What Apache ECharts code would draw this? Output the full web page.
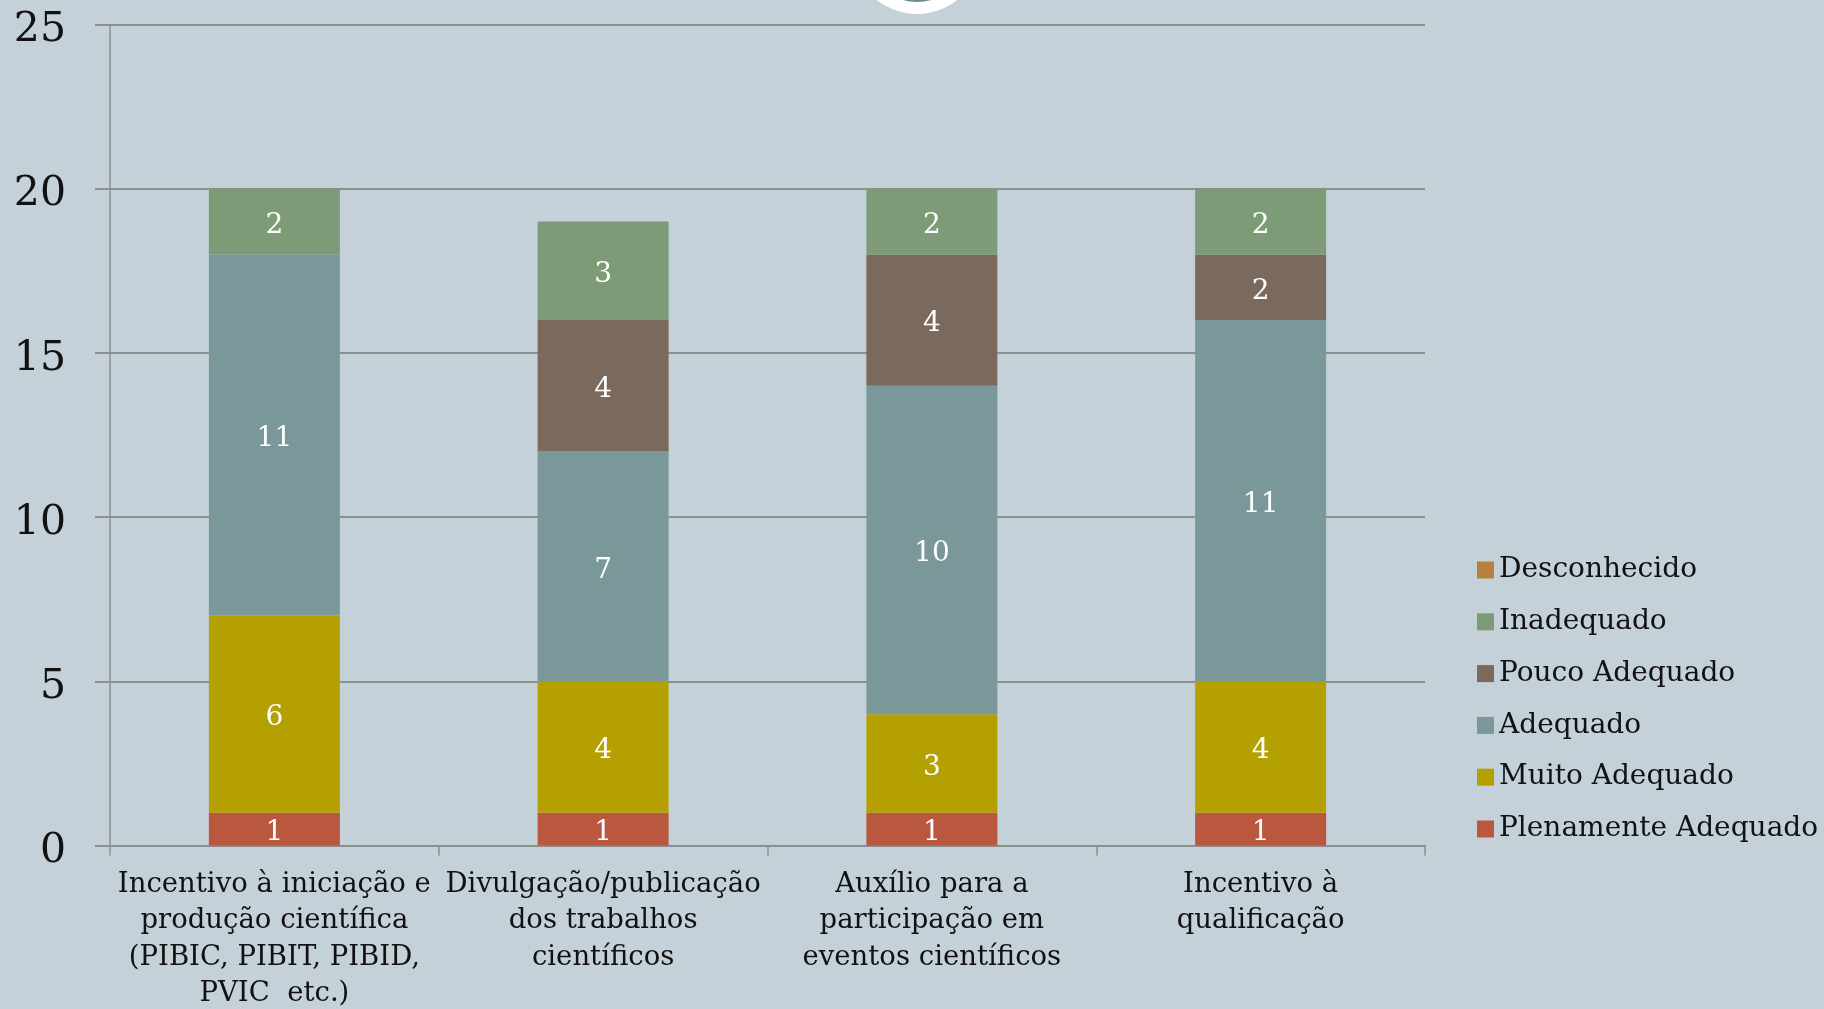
<!DOCTYPE html>
<html>
<head>
<meta charset="utf-8">
<script src="https://cdn.jsdelivr.net/npm/echarts@6/dist/echarts.min.js"></script>
<style>
html,body{margin:0;padding:0;background:#c5d1d8;}
#chart{width:1824px;height:1009px;}
</style>
</head>
<body>
<div id="chart"></div>
<script>
var categories = [
  "Incentivo à iniciação e\nprodução científica\n(PIBIC, PIBIT, PIBID,\nPVIC  etc.)",
  "Divulgação/publicação\ndos trabalhos\ncientíficos",
  "Auxílio para a\nparticipação em\neventos científicos",
  "Incentivo à\nqualificação"
];
var plenamenteAdequado = [1, 1, 1, 1];
var muitoAdequado = [6, 4, 3, 4];
var adequado = [11, 7, 10, 11];
var poucoAdequado = [0, 4, 4, 2];
var inadequado = [2, 3, 2, 2];
var desconhecido = [0, 0, 0, 0];
var yTicks = {min: 0, max: 25, interval: 5};

var FONT = "DejaVu Serif";
function mk(name, data, color) {
  return {
    name: name, type: 'bar', stack: 'total', data: data, barWidth: 131,
    itemStyle: {color: color},
    label: {show: true, position: 'inside', color: '#ffffff', fontFamily: FONT, fontSize: 28,
      offset: [0, 4],
      formatter: function (p) { return p.value ? String(p.value) : ''; }}
  };
}
var chart = echarts.init(document.getElementById('chart'));
chart.setOption({
  backgroundColor: '#c5d1d8',
  animation: false,
  grid: {left: 110, right: 399, top: 24.5, bottom: 163.5, containLabel: false, outerBoundsMode: 'none'},
  graphic: [
    {type: 'circle', shape: {cx: 917, cy: -51, r: 65}, style: {fill: '#ffffff'}, z: 100},
    {type: 'circle', shape: {cx: 917, cy: -51, r: 53}, style: {fill: '#6f8e8b'}, z: 101}
  ],
  legend: {
    orient: 'vertical', left: 1472, top: 551, icon: 'rect', itemWidth: 17, itemHeight: 17,
    itemGap: 23.8,
    data: ['Desconhecido', 'Inadequado', 'Pouco Adequado', 'Adequado', 'Muito Adequado', 'Plenamente Adequado'],
    textStyle: {fontFamily: FONT, fontSize: 28, color: '#111111'},
    itemStyle: {borderWidth: 0}
  },
  xAxis: {
    type: 'category', data: categories,
    axisLine: {show: true, lineStyle: {color: '#8e8e8e', width: 2}},
    axisTick: {show: true, length: 10, lineStyle: {color: '#8e8e8e', width: 1.5}},
    axisLabel: {fontFamily: FONT, fontSize: 27.5, color: '#111111', lineHeight: 36.4, margin: 21, interval: 0}
  },
  yAxis: {
    type: 'value', min: yTicks.min, max: yTicks.max, interval: yTicks.interval,
    axisLine: {show: true, lineStyle: {color: '#8e8e8e', width: 1.5}},
    axisTick: {show: true, length: 15, lineStyle: {color: '#8e8e8e', width: 2}},
    splitLine: {show: true, lineStyle: {color: '#8e8e8e', width: 2}},
    axisLabel: {fontFamily: FONT, fontSize: 41, color: '#111111', margin: 44,
      verticalAlign: 'top', lineHeight: 12}
  },
  series: [
    mk('Plenamente Adequado', plenamenteAdequado, '#b9573f'),
    mk('Muito Adequado', muitoAdequado, '#b4a000'),
    mk('Adequado', adequado, '#7a9899'),
    mk('Pouco Adequado', poucoAdequado, '#7a6a5e'),
    mk('Inadequado', inadequado, '#7e9b78'),
    mk('Desconhecido', desconhecido, '#b8803f')
  ]
});
</script>
</body>
</html>
